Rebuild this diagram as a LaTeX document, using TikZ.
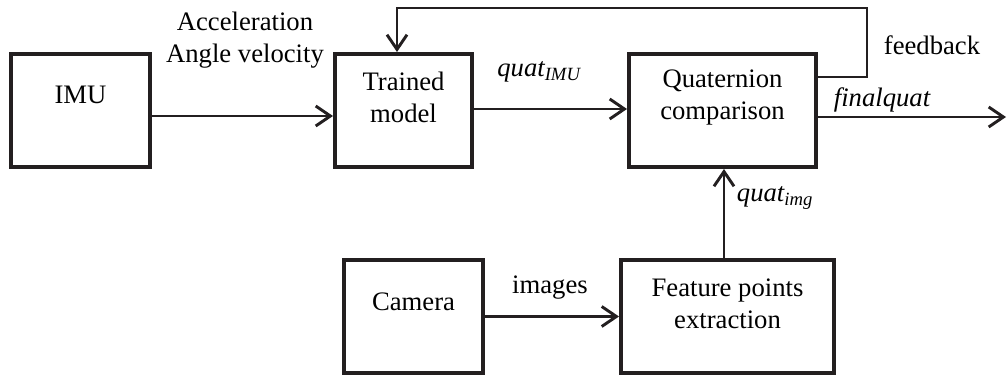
\documentclass[tikz,border=0pt]{standalone}
\usepackage{fontspec}
\setmainfont{Liberation Serif}
\usetikzlibrary{arrows.meta,calc}
\definecolor{ink}{RGB}{35,31,32}
\begin{document}
\begin{tikzpicture}[x=0.75pt,y=-0.75pt,
  box/.style={draw=ink, line width=3pt, inner sep=0pt},
  lbl/.style={font=\fontsize{20}{24}\selectfont, align=center, inner sep=0pt, text=black},
  arr/.style={draw=ink, line width=2.2pt, -{Straight Barb[length=11pt,width=15pt]}}]
\useasboundingbox (0,0) rectangle (1008,378);
% boxes
\node[box, minimum width=139*0.75pt, minimum height=113*0.75pt] (imu) at (80.5,110.5) {};
\node[box, minimum width=137*0.75pt, minimum height=113*0.75pt] (tm) at (403.5,110.5) {};
\node[box, minimum width=187*0.75pt, minimum height=113*0.75pt] (qc) at (722.5,110.5) {};
\node[box, minimum width=139*0.75pt, minimum height=113*0.75pt] (cam) at (413.5,316.5) {};
\node[box, minimum width=213*0.75pt, minimum height=113*0.75pt] (fe) at (727.5,316.5) {};
% box texts
\node[lbl] (imut) at (80.5,95) {IMU};
\node[lbl] (tmt) at (403.5,97) {Trained\\model};
\node[lbl] (qct) at (722.5,98) {Quaternion\\comparison};
\node[lbl] (camt) at (413.5,302) {Camera};
\node[lbl] (fet) at (727.5,304) {Feature points\\extraction};
% connectors
\draw[arr] ($(imu.east)+(0,5.5)$) -- ($(tm.west)+(0,5.5)$);
\draw[arr] ($(tm.east)+(0,-1.5)$) -- ($(qc.west)+(0,-1.5)$);
\coordinate (out) at (1006,117);
\draw[arr] (qc.east |- out) -- (out);
\coordinate (fbr) at (867,77);
\coordinate (fbl) at (397,8);
\draw[arr] (qc.east |- fbr) -- (fbr) |- (fbl) -- (fbl |- tm.north);
\draw[arr] (cam) -- (fe);
\coordinate (qi) at (724,0);
\draw[arr] (fe.north -| qi) -- (qc.south -| qi);
% labels
\node[lbl] (acc) at (245,40) {Acceleration\\Angle velocity};
\node[lbl] (qimu) at (539,72) {\itshape quat\textsubscript{IMU}};
\node[lbl] (fb) at (932,45) {feedback};
\node[lbl] (fq) at (882,100) {\itshape finalquat};
\node[lbl] (img) at (550,288) {images};
\node[lbl] (qimg) at (775,198) {\itshape quat\textsubscript{img}};
\end{tikzpicture}
\end{document}
